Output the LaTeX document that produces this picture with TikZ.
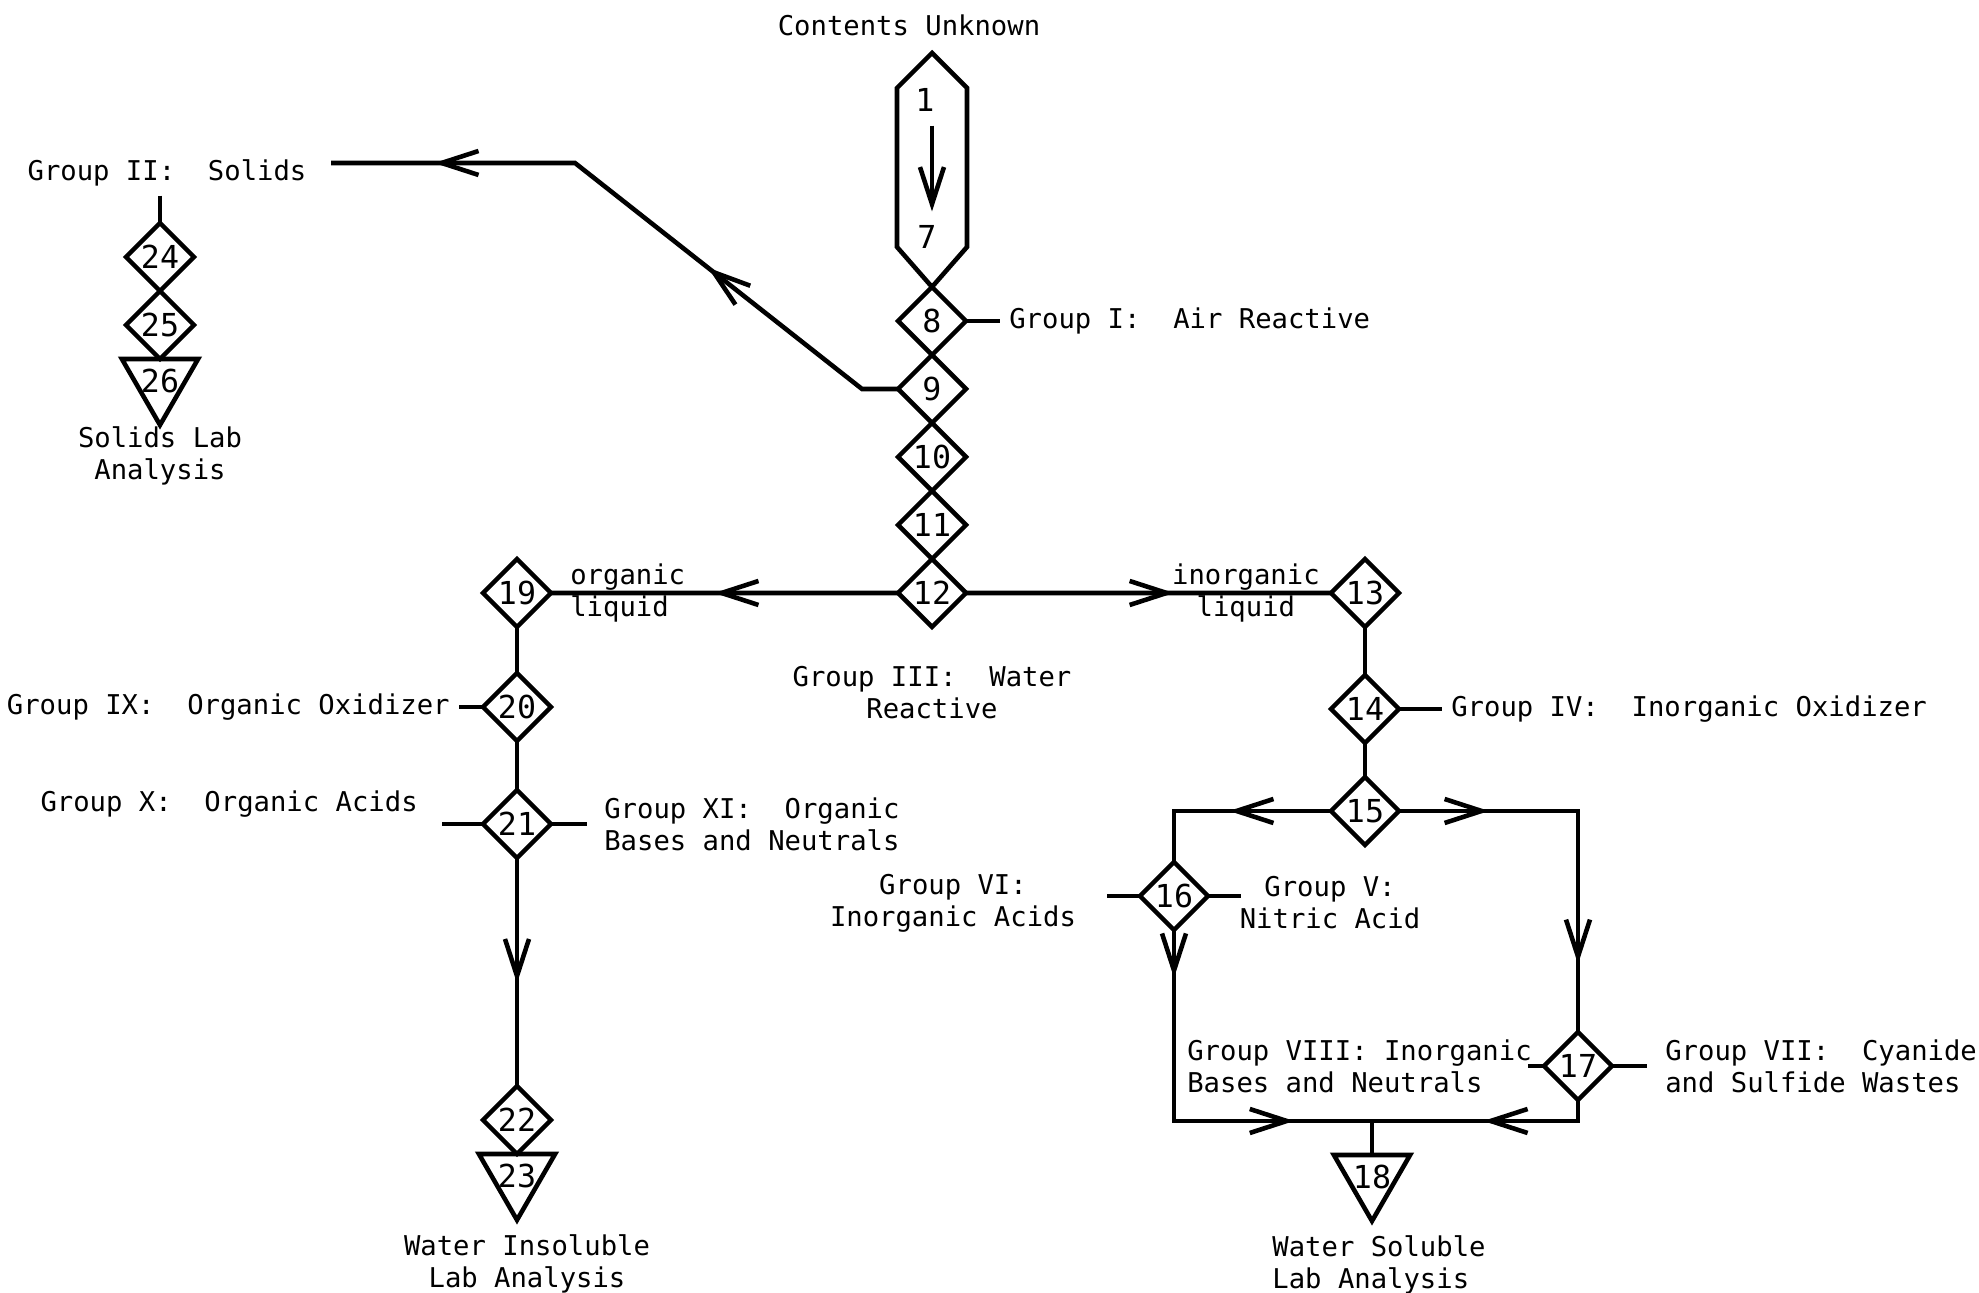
\documentclass[tikz,border=0pt]{standalone}
\usepackage{fontspec}
\setmonofont{DejaVu Sans Mono}
\usetikzlibrary{arrows.meta, positioning, shapes.geometric, decorations.markings}

\newcommand{\lblfont}{\ttfamily\frenchspacing\fontsize{7.75}{9.1}\selectfont}
\newcommand{\numfont}{\ttfamily\fontsize{9}{10}\selectfont}

\tikzset{
  flowtip/.tip={Straight Barb[length=3.7mm, width=2.4mm]},
  flow/.style={postaction={decorate, decoration={markings, mark=at position #1 with {\arrow{flowtip}}}}}
}

\begin{document}
\begin{tikzpicture}[
    line width=1.3pt,
    test/.style={draw, diamond, aspect=1, minimum size=0.68cm, inner sep=0pt, outer sep=0pt, font=\numfont},
    sink/.style={draw, regular polygon, regular polygon sides=3, shape border rotate=180, minimum size=0.88cm, inner sep=0pt, outer sep=0pt,
      label={[font=\numfont, inner sep=0pt]center:#1}},
    lbl/.style={font=\lblfont, inner sep=2pt},
    node distance=0cm
  ]
  \useasboundingbox (0,0) rectangle (19.79,12.93);

  % main column
  \node[lbl] (top) at (9.09,12.68) {Contents Unknown};
  \node[test] (d8) at (9.32,9.72) {8};
  \node[test, below=of d8] (d9) {9};
  \node[test, below=of d9] (d10) {10};
  \node[test, below=of d10] (d11) {11};
  \node[test, below=of d11] (d12) {12};
  \draw (d8.north) -- ++(-0.35,0.40) -- ++(0,1.59) -- ++(0.35,0.35) -- ++(0.35,-0.35) -- ++(0,-1.59) -- cycle;
  \node[font=\numfont] (n1) at (9.25,11.93) {1};
  \node[font=\numfont] (n7) at (9.27,10.56) {7};
  \draw[-flowtip] (n1.south -| d8) -- (n7.north -| d8);

  \node[lbl, right=0.34cm of d8] (g1) {Group I:\ \ Air Reactive};
  \draw (d8.east) -- (g1.west);

  % solids branch
  \node[lbl] (g2) at (1.67,11.20) {Group II:\ \ Solids};
  \coordinate (solid) at (3.31,11.30);
  \draw[flow=.36, flow=.84] (d9.west) -- ++(-0.36,0) -- (5.75,11.30) -- (solid);
  \node[test] (d24) at (1.60,10.36) {24};
  \node[test, below=of d24] (d25) {25};
  \node[sink=26, below=of d25] (t26) {};
  \node[lbl, below=-0.08cm of t26, align=center] (solab) {Solids Lab\\Analysis};
  \draw (g2.south -| d24) -- (d24);

  % liquids
  \node[test] (d19) at (5.17,7.00) {19};
  \node[test] (d13) at (13.65,7.00) {13};
  \draw[flow=.53] (d12) -- (d19);
  \draw[flow=.57] (d12) -- (d13);
  \node[lbl, right=0.1cm of d19, align=left] (org) {organic\\liquid};
  \node[lbl, left=0.02cm of d13, align=center] (inorg) {inorganic\\liquid};
  \node[lbl, below=0.3cm of d12, align=center] (g3) {Group III:\ \ Water\\Reactive};

  % inorganic side
  \node[test] (d14) at (13.65,5.84) {14};
  \node[test] (d15) at (13.65,4.82) {15};
  \draw (d13) -- (d14);
  \draw (d14) -- (d15);
  \node[lbl, right=0.43cm of d14] (g4) {Group IV:\ \ Inorganic Oxidizer};
  \draw (d14.east) -- (g4.west);
  \node[test] (d16) at (11.74,3.97) {16};
  \node[test] (d17) at (15.78,2.27) {17};
  \draw[flow=.49] (d15.west) -| (d16.north);
  \draw[flow=.225, flow=.83] (d15.east) -| (d17.north);
  \coordinate[left=0.33cm of d16] (s16l);
  \coordinate[right=0.33cm of d16] (s16r);
  \draw (d16.west) -- (s16l);
  \draw (d16.east) -- (s16r);
  \node[lbl, align=center] (g6) at (9.53,3.90) {Group VI:\\Inorganic Acids};
  \node[lbl, align=center] (g5) at (13.30,3.90) {Group V:\\Nitric Acid};

  \coordinate (j18) at (13.72,1.72);
  \draw[flow=.123, flow=.80] (d16.south) |- (j18);
  \draw[flow=.51] (d17.south) |- (j18);
  \node[sink=18, below=0.34cm of j18] (t18) {};
  \draw (j18) -- (t18);
  \coordinate[left=0.16cm of d17] (s17l);
  \coordinate[right=0.35cm of d17] (s17r);
  \draw (d17.west) -- (s17l);
  \draw (d17.east) -- (s17r);
  \node[lbl, right=0.44cm of d17, align=left] (g7) {Group VII:\ \ Cyanide\\and Sulfide Wastes};
  \node[lbl, left=0.03cm of d17, align=left] (g8) {Group VIII: Inorganic\\Bases and Neutrals};
  \node[lbl, below=0.05cm of t18, xshift=0.07cm, align=left] (wsol) {Water Soluble\\Lab Analysis};

  % organic side
  \node[test] (d20) at (5.17,5.86) {20};
  \node[test] (d21) at (5.17,4.69) {21};
  \node[test] (d22) at (5.17,1.73) {22};
  \node[sink=23, below=of d22] (t23) {};
  \draw (d19) -- (d20);
  \draw (d20) -- (d21);
  \draw[flow=.55] (d21) -- (d22);
  \node[lbl, left=0.24cm of d20] (g9) {Group IX:\ \ Organic Oxidizer};
  \draw (d20.west) -- (g9.east);
  \node[lbl, anchor=east] (g10) at (4.27,4.89) {Group X:\ \ Organic Acids};
  \coordinate[left=0.41cm of d21] (s21l);
  \coordinate[right=0.36cm of d21] (s21r);
  \draw (d21.west) -- (s21l);
  \draw (d21.east) -- (s21r);
  \node[lbl, right=0.44cm of d21, align=left] (g11) {Group XI:\ \ Organic\\Bases and Neutrals};
  \node[lbl, below=0.05cm of t23, xshift=0.1cm, align=center] (winsol) {Water Insoluble\\Lab Analysis};
\end{tikzpicture}
\end{document}
